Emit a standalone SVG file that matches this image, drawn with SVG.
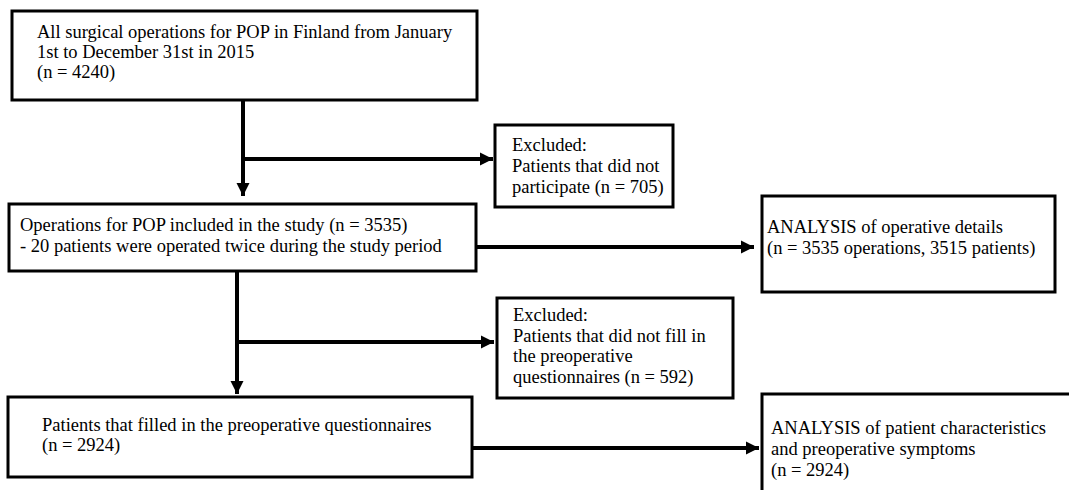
<svg xmlns="http://www.w3.org/2000/svg" width="1069" height="490" viewBox="0 0 1069 490">
<defs>
<style>
.box{fill:#fff;stroke:#000;stroke-width:3}
.t{font-family:"Liberation Serif","Times New Roman",serif;font-size:18.5px;fill:#000}
.c{stroke:#000;stroke-width:4;fill:none}
</style>
<marker id="ah" viewBox="0 0 10 10" refX="10" refY="5" markerWidth="3.3" markerHeight="3.3" markerUnits="strokeWidth" orient="auto"><path d="M0,0 L10,5 L0,10 Z" fill="#000"/></marker>
</defs>
<rect width="1069" height="490" fill="#fff"/>
<g id="connectors">
<path class="c" d="M243,101 V196" marker-end="url(#ah)"/>
<path class="c" d="M243,159 H493" marker-end="url(#ah)"/>
<path class="c" d="M476,247 H754" marker-end="url(#ah)"/>
<path class="c" d="M237,271 V394" marker-end="url(#ah)"/>
<path class="c" d="M237,342 H494" marker-end="url(#ah)"/>
<path class="c" d="M472,448 H759" marker-end="url(#ah)"/>
</g>
<g id="n1"><rect class="box" x="12" y="11" width="465" height="89"/>
<text class="t" x="37" y="38">All surgical operations for POP in Finland from January</text>
<text class="t" x="37" y="58">1st to December 31st in 2015</text>
<text class="t" x="37" y="78">(n = 4240)</text></g>
<g id="n2"><rect class="box" x="495" y="125" width="178" height="82"/>
<text class="t" x="512" y="151">Excluded:</text>
<text class="t" x="512" y="172">Patients that did not</text>
<text class="t" x="512" y="193">participate (n = 705)</text></g>
<g id="n3"><rect class="box" x="9" y="204" width="467" height="67"/>
<text class="t" x="20" y="231">Operations for POP included in the study (n = 3535)</text>
<text class="t" x="20" y="252">- 20 patients were operated twice during the study period</text></g>
<g id="n4"><rect class="box" x="762" y="196" width="293" height="96"/>
<text class="t" x="767" y="233">ANALYSIS of operative details</text>
<text class="t" x="767" y="254">(n = 3535 operations, 3515 patients)</text></g>
<g id="n5"><rect class="box" x="497" y="298" width="236" height="100"/>
<text class="t" x="513" y="321">Excluded:</text>
<text class="t" x="513" y="342">Patients that did not fill in</text>
<text class="t" x="513" y="362">the preoperative</text>
<text class="t" x="513" y="383">questionnaires (n = 592)</text></g>
<g id="n6"><rect class="box" x="8" y="397" width="464" height="80"/>
<text class="t" x="42" y="431">Patients that filled in the preoperative questionnaires</text>
<text class="t" x="42" y="451">(n = 2924)</text></g>
<g id="n7"><rect class="box" x="762" y="394" width="330" height="110"/>
<text class="t" x="771" y="434">ANALYSIS of patient characteristics</text>
<text class="t" x="771" y="455">and preoperative symptoms</text>
<text class="t" x="771" y="476">(n = 2924)</text></g>
</svg>
